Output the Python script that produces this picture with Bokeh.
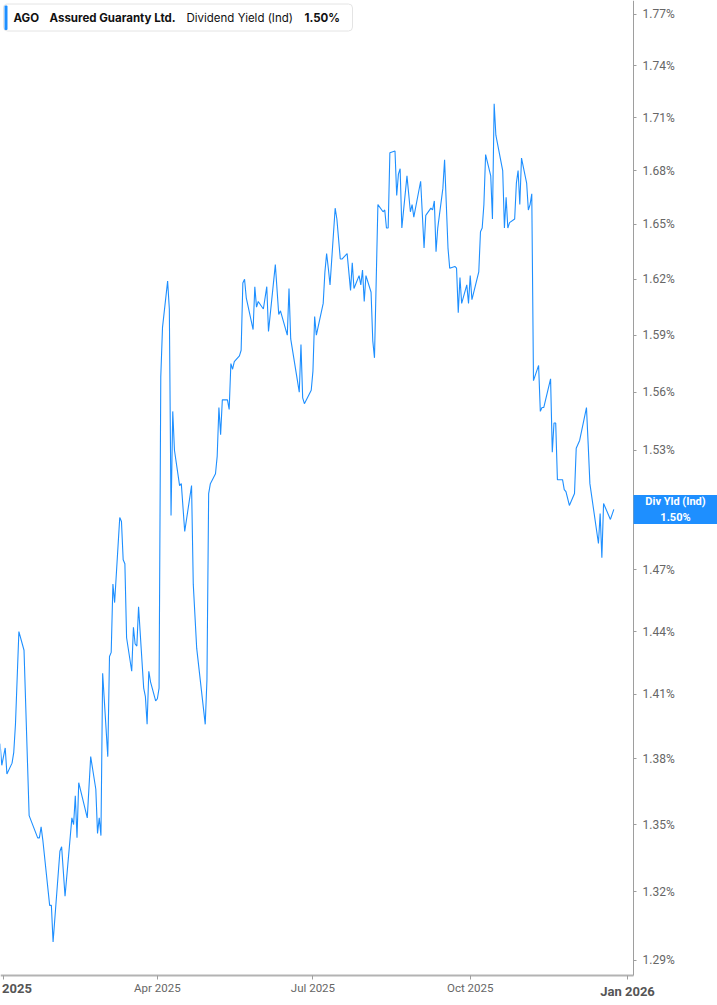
import numpy as np
import pandas as pd
from bokeh.plotting import figure
from bokeh.models import (ColumnDataSource, Range1d, FixedTicker, PrintfTickFormatter,
                          Label, BoxAnnotation)
from bokeh.embed import file_html
from bokeh.resources import INLINE

# AGO indicated dividend yield (%)
dates = [
    "2024-12-30", "2024-12-31", "2025-01-02", "2025-01-03", "2025-01-06", "2025-01-07",
    "2025-01-08", "2025-01-10", "2025-01-13", "2025-01-16", "2025-01-21", "2025-01-22",
    "2025-01-23", "2025-01-24", "2025-01-28", "2025-01-29", "2025-01-30", "2025-02-03",
    "2025-02-04", "2025-02-06", "2025-02-10", "2025-02-11", "2025-02-12", "2025-02-13",
    "2025-02-14", "2025-02-19", "2025-02-21", "2025-02-24", "2025-02-25", "2025-02-26",
    "2025-02-27", "2025-02-28", "2025-03-03", "2025-03-04", "2025-03-05", "2025-03-06",
    "2025-03-07", "2025-03-10", "2025-03-11", "2025-03-12", "2025-03-13", "2025-03-14",
    "2025-03-17", "2025-03-18", "2025-03-19", "2025-03-20", "2025-03-21", "2025-03-24",
    "2025-03-25", "2025-03-26", "2025-03-27", "2025-03-28", "2025-03-31", "2025-04-01",
    "2025-04-02", "2025-04-03", "2025-04-04", "2025-04-07", "2025-04-08", "2025-04-09",
    "2025-04-10", "2025-04-11", "2025-04-14", "2025-04-15", "2025-04-17", "2025-04-21",
    "2025-04-22", "2025-04-24", "2025-04-29", "2025-04-30", "2025-05-01", "2025-05-02",
    "2025-05-05", "2025-05-06", "2025-05-07", "2025-05-08", "2025-05-09", "2025-05-12",
    "2025-05-13", "2025-05-14", "2025-05-15", "2025-05-16", "2025-05-19", "2025-05-20",
    "2025-05-21", "2025-05-22", "2025-05-23", "2025-05-27", "2025-05-28", "2025-05-29",
    "2025-05-30", "2025-06-02", "2025-06-04", "2025-06-05", "2025-06-09", "2025-06-11",
    "2025-06-12", "2025-06-16", "2025-06-17", "2025-06-18", "2025-06-23", "2025-06-24",
    "2025-06-25", "2025-06-26", "2025-06-30", "2025-07-01", "2025-07-02", "2025-07-03",
    "2025-07-07", "2025-07-08", "2025-07-09", "2025-07-10", "2025-07-11", "2025-07-14",
    "2025-07-15", "2025-07-17", "2025-07-18", "2025-07-21", "2025-07-23", "2025-07-24",
    "2025-07-25", "2025-07-28", "2025-07-29", "2025-07-30", "2025-07-31", "2025-08-01",
    "2025-08-04", "2025-08-05", "2025-08-06", "2025-08-08", "2025-08-11", "2025-08-12",
    "2025-08-13", "2025-08-14", "2025-08-15", "2025-08-18", "2025-08-19", "2025-08-20",
    "2025-08-21", "2025-08-22", "2025-08-25", "2025-08-27", "2025-08-28", "2025-08-29",
    "2025-09-02", "2025-09-04", "2025-09-05", "2025-09-08", "2025-09-09", "2025-09-10",
    "2025-09-11", "2025-09-12", "2025-09-15", "2025-09-16", "2025-09-18", "2025-09-19",
    "2025-09-22", "2025-09-23", "2025-09-24", "2025-09-25", "2025-09-26", "2025-09-29",
    "2025-09-30", "2025-10-01", "2025-10-02", "2025-10-06", "2025-10-07", "2025-10-08",
    "2025-10-09", "2025-10-10", "2025-10-13", "2025-10-14", "2025-10-15", "2025-10-16",
    "2025-10-20", "2025-10-21", "2025-10-22", "2025-10-23", "2025-10-24", "2025-10-27",
    "2025-10-28", "2025-10-29", "2025-10-30", "2025-10-31", "2025-11-03", "2025-11-04",
    "2025-11-05", "2025-11-06", "2025-11-07", "2025-11-10", "2025-11-11", "2025-11-12",
    "2025-11-13", "2025-11-17", "2025-11-18", "2025-11-19", "2025-11-20", "2025-11-21",
    "2025-11-24", "2025-11-25", "2025-11-26", "2025-11-28", "2025-12-01", "2025-12-02",
    "2025-12-04", "2025-12-08", "2025-12-09", "2025-12-10", "2025-12-15", "2025-12-16",
    "2025-12-17", "2025-12-18", "2025-12-22", "2025-12-24",
]
div_yield = [
    1.387, 1.377, 1.385, 1.373, 1.378, 1.383,
    1.396, 1.440, 1.431, 1.354, 1.344, 1.344,
    1.349, 1.343, 1.314, 1.314, 1.298, 1.338,
    1.340, 1.318, 1.353, 1.350, 1.363, 1.344,
    1.369, 1.353, 1.381, 1.366, 1.346, 1.353,
    1.345, 1.420, 1.381, 1.428, 1.430, 1.463,
    1.454, 1.496, 1.494, 1.475, 1.473, 1.437,
    1.421, 1.442, 1.434, 1.433, 1.452, 1.413,
    1.409, 1.396, 1.421, 1.416, 1.407, 1.408,
    1.413, 1.568, 1.594, 1.619, 1.604, 1.497,
    1.550, 1.530, 1.512, 1.513, 1.489, 1.512,
    1.463, 1.432, 1.396, 1.417, 1.508, 1.513,
    1.518, 1.527, 1.552, 1.538, 1.556, 1.556,
    1.551, 1.575, 1.572, 1.576, 1.579, 1.582,
    1.618, 1.620, 1.610, 1.593, 1.616, 1.605,
    1.608, 1.604, 1.616, 1.592, 1.628, 1.601,
    1.603, 1.590, 1.615, 1.588, 1.560, 1.585,
    1.557, 1.554, 1.561, 1.571, 1.600, 1.590,
    1.607, 1.624, 1.634, 1.626, 1.617, 1.659,
    1.653, 1.631, 1.631, 1.634, 1.614, 1.629,
    1.615, 1.622, 1.617, 1.625, 1.608, 1.622,
    1.613, 1.587, 1.578, 1.661, 1.657, 1.658,
    1.648, 1.648, 1.690, 1.691, 1.666, 1.678,
    1.681, 1.648, 1.677, 1.657, 1.661, 1.654,
    1.674, 1.637, 1.655, 1.659, 1.658, 1.663,
    1.635, 1.648, 1.670, 1.686, 1.637, 1.626,
    1.627, 1.626, 1.602, 1.621, 1.607, 1.617,
    1.607, 1.622, 1.609, 1.624, 1.646, 1.648,
    1.661, 1.689, 1.677, 1.653, 1.718, 1.700,
    1.680, 1.648, 1.665, 1.648, 1.651, 1.653,
    1.673, 1.680, 1.661, 1.687, 1.673, 1.658,
    1.661, 1.667, 1.566, 1.574, 1.550, 1.552,
    1.552, 1.567, 1.529, 1.544, 1.544, 1.515,
    1.515, 1.510, 1.509, 1.502, 1.508, 1.531,
    1.535, 1.552, 1.533, 1.513, 1.483, 1.498,
    1.476, 1.503, 1.495, 1.500,
]

x_tick_dates = ["2025-01-01", "2025-04-01", "2025-07-01", "2025-10-01", "2026-01-01"]
x_tick_labels = ["2025", "Apr 2025", "Jul 2025", "Oct 2025", "Jan 2026"]
x_tick_bold = [True, False, False, False, True]
y_ticks = [1.29, 1.32, 1.35, 1.38, 1.41, 1.44, 1.47, 1.50, 1.53,
           1.56, 1.59, 1.62, 1.65, 1.68, 1.71, 1.74, 1.77]

symbol = "AGO"
company = "Assured Guaranty Ltd."
metric = "Dividend Yield (Ind)"
metric_short = "Div Yld (Ind)"
last_value = div_yield[-1]

BLUE = "#1e8fff"
W, H = 717, 1003

def ms(s):
    return pd.Timestamp(s).value / 1e6

# view window; the axes sit inside it at fixed spots
X_START, X_END = ms("2024-12-30 05:53"), ms("2026-02-22 15:20")
Y0, Y1 = 1.27157, 1.77830
X_AXIS_AT = 1.28355                 # value where the date axis line sits
Y_AXIS_AT = ms("2026-01-04 12:15")  # date where the value axis line sits

source = ColumnDataSource(data=dict(date=pd.to_datetime(dates), value=div_yield))

p = figure(width=W, height=H, x_axis_type="datetime", y_axis_type="log",
           y_axis_location="right",
           x_range=Range1d(X_START, X_END), y_range=Range1d(Y0, Y1),
           toolbar_location=None, output_backend="svg", min_border=0)
p.outline_line_color = None
p.xgrid.visible = False
p.ygrid.visible = False

r = p.line(x="date", y="value", source=source, line_color=BLUE, line_width=1.1)

# right value axis
ya = p.yaxis[0]
ya.fixed_location = Y_AXIS_AT
ya.bounds = (X_AXIS_AT, Y1)
ya.ticker = FixedTicker(ticks=y_ticks)
ya.formatter = PrintfTickFormatter(format="%.2f%%")
ya.axis_line_color = "#9e9e9e"
ya.major_tick_line_color = "#9e9e9e"
ya.major_tick_in = 0
ya.major_tick_out = 3
ya.minor_tick_line_color = None
ya.major_label_standoff = 6
ya.major_label_text_font = "Roboto"
ya.major_label_text_font_size = "12px"
ya.major_label_text_color = "#666666"

# date axis, the year ticks get bold labels of their own
tick_ms = [ms(d) for d in x_tick_dates]
xa = p.xaxis[0]
xa.fixed_location = X_AXIS_AT
xa.bounds = (X_START, Y_AXIS_AT)
xa.ticker = FixedTicker(ticks=tick_ms)
xa.major_label_overrides = {t: ("" if b else lbl)
                            for t, lbl, b in zip(tick_ms, x_tick_labels, x_tick_bold)}
xa.axis_line_color = "#b3b3b3"
xa.axis_line_width = 2
xa.major_tick_line_color = "#9e9e9e"
xa.major_tick_in = 0
xa.major_tick_out = 4
xa.minor_tick_line_color = None
xa.major_label_standoff = 2
xa.major_label_text_font = "Roboto"
xa.major_label_text_font_size = "11.5px"
xa.major_label_text_color = "#666666"

for i, (t, lbl, b) in enumerate(zip(tick_ms, x_tick_labels, x_tick_bold)):
    if not b:
        continue
    first = i == 0
    p.add_layout(Label(x=t, y=H - 983, x_units="data", y_units="screen", text=lbl,
                       text_align="left" if first else "center", x_offset=-1.5 if first else 0,
                       text_baseline="top", text_font="Roboto", text_font_size="13px",
                       text_font_style="bold", text_color="#555555", level="overlay"))

# header box
p.add_layout(BoxAnnotation(left=3, right=352, top=H - 3.5, bottom=H - 30.5,
                           left_units="screen", right_units="screen",
                           top_units="screen", bottom_units="screen",
                           fill_color="white", fill_alpha=1, line_color="#e4e4e4",
                           line_alpha=1, line_width=1, border_radius=4, level="overlay"))
p.add_layout(BoxAnnotation(left=4, right=7, top=H - 5, bottom=H - 29.5,
                           left_units="screen", right_units="screen",
                           top_units="screen", bottom_units="screen",
                           fill_color=BLUE, fill_alpha=1, line_color=None,
                           border_radius=1, level="overlay"))
for x, txt, style in [(13, symbol, "bold"), (49, company, "bold"),
                      (186, metric, "normal"), (304, f"{last_value:.2f}%", "bold")]:
    p.add_layout(Label(x=x, y=H - 17, x_units="screen", y_units="screen", text=txt,
                       text_baseline="middle", text_font="Inter", text_font_size="11.5px",
                       text_font_style=style, text_color="#111111", level="overlay"))

# last value tag on the value axis
sy = H * (np.log(last_value) - np.log(Y0)) / (np.log(Y1) - np.log(Y0))
p.add_layout(BoxAnnotation(left=633, right=W, top=sy + 14.5, bottom=sy - 14.5,
                           left_units="screen", right_units="screen",
                           top_units="screen", bottom_units="screen",
                           fill_color=BLUE, fill_alpha=1, line_color=None, level="overlay"))
p.add_layout(Label(x=(633 + W) / 2, y=last_value, x_units="screen", y_units="data",
                   text=f"{metric_short}\n{last_value:.2f}%", text_align="center",
                   text_baseline="middle", text_font="Roboto", text_font_size="11px",
                   text_font_style="bold", text_color="white", level="overlay"))

open("out.html", "w").write(file_html(p, INLINE))
